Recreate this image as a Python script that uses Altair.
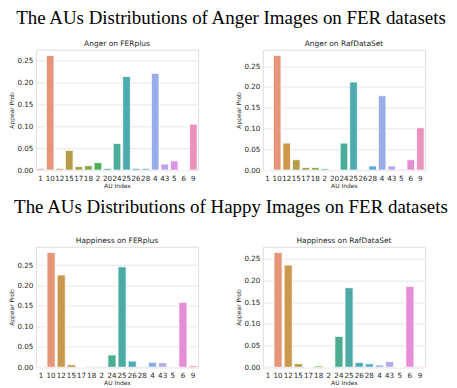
import math
import colorsys
import altair as alt
import pandas as pd

# ---------------- data ----------------
anger_aus = ["1", "10", "12", "15", "17", "18", "2", "20", "24", "25", "26", "28", "4", "43", "5", "6", "9"]
happy_aus = ["1", "10", "12", "15", "17", "18", "2", "24", "25", "26", "28", "4", "43", "5", "6", "9"]

anger_ferplus = [0.004, 0.262, 0.004, 0.045, 0.008, 0.010, 0.017, 0.004, 0.061, 0.214,
                 0.004, 0.004, 0.221, 0.014, 0.021, 0.0, 0.105]
anger_raf = [0.0, 0.276, 0.065, 0.025, 0.006, 0.006, 0.003, 0.0005, 0.065, 0.212,
             0.001, 0.010, 0.179, 0.010, 0.002, 0.025, 0.102]
happy_ferplus = [0.001, 0.281, 0.226, 0.006, 0.0, 0.001, 0.001, 0.030, 0.246, 0.015,
                 0.001, 0.012, 0.011, 0.001, 0.159, 0.004]
happy_raf = [0.001, 0.264, 0.235, 0.008, 0.0, 0.003, 0.0, 0.071, 0.183, 0.011,
             0.008, 0.005, 0.013, 0.0, 0.186, 0.002]

row_titles = ["The AUs Distributions of Anger Images on FER datasets",
              "The AUs Distributions of Happy Images on FER datasets"]
panel_titles = ["Anger on FERplus", "Anger on RafDataSet",
                "Happiness on FERplus", "Happiness on RafDataSet"]
y_ticks = [0.0, 0.05, 0.10, 0.15, 0.20, 0.25]

# ---------------- seaborn-like husl palette ----------------
M = [[3.2406, -1.5372, -0.4986], [-0.9689, 1.8758, 0.0415], [0.0557, -0.2040, 1.0570]]
REF_U, REF_V = 0.19784, 0.46834


def max_chroma(L, H):
    hrad = math.radians(H)
    sinH, cosH = math.sin(hrad), math.cos(hrad)
    sub1 = (L + 16) ** 3 / 1560896.0
    sub2 = sub1 if sub1 > 0.008856 else L / 903.3
    result = float("inf")
    for m1, m2, m3 in M:
        top = (0.99915 * m1 + 1.05122 * m2 + 1.14460 * m3) * sub2
        rbottom = 0.86330 * m3 - 0.17266 * m2
        lbottom = 0.12949 * m3 - 0.38848 * m1
        bottom = (rbottom * sinH + lbottom * cosH) * sub2
        for t in (0.0, 1.0):
            C = L * (top - 1.05122 * t) / (bottom + 0.17266 * sinH * t)
            if 0.0 < C < result:
                result = C
    return result


def husl_to_rgb(h, s, l):
    C = max_chroma(l, h) / 100.0 * s
    hr = math.radians(h)
    U, V = math.cos(hr) * C, math.sin(hr) * C
    t = (l + 16.0) / 116.0
    Y = t ** 3 if t ** 3 > 0.008856 else (116.0 * t - 16.0) / 903.3
    vu = U / (13.0 * l) + REF_U
    vv = V / (13.0 * l) + REF_V
    X = 0.0 - (9.0 * Y * vu) / ((vu - 4.0) * vv - vu * vv)
    Z = (9.0 * Y - 15.0 * vv * Y - vv * X) / (3.0 * vv)
    out = []
    for r in M:
        c = r[0] * X + r[1] * Y + r[2] * Z
        c = 12.92 * c if c <= 0.0031308 else 1.055 * c ** (1 / 2.4) - 0.055
        out.append(min(max(c, 0.0), 1.0))
    return out


def palette(n):
    cols = []
    for i in range(n):
        h = ((i / n) + 0.01) % 1 * 359
        r, g, b = husl_to_rgb(h, 0.9 * 99, 0.7 * 99)
        hh, ll, ss = colorsys.rgb_to_hls(r, g, b)
        r, g, b = colorsys.hls_to_rgb(hh, ll, ss * 0.75)
        cols.append("#%02x%02x%02x" % tuple(int(round(v * 255)) for v in (r, g, b)))
    return cols


# ---------------- panels ----------------
W, H = 163, 121


def panel(aus, vals, title):
    df = pd.DataFrame({"au": aus, "prob": vals, "color": palette(len(aus))})
    ymax = max(vals) * 1.05
    return alt.Chart(df).mark_bar(stroke="white", strokeWidth=0.8).encode(
        x=alt.X("au:N", sort=aus, title="AU Index",
                scale=alt.Scale(paddingInner=0.2, paddingOuter=0.1),
                axis=alt.Axis(labelAngle=0, ticks=False, domain=False, grid=False,
                              labelFontSize=7.2, labelPadding=4, titleFontSize=6,
                              titlePadding=1, labelColor="#262626", titleColor="#262626",
                              titleFontWeight="normal", labelFont="DejaVu Sans",
                              titleFont="DejaVu Sans")),
        y=alt.Y("prob:Q", title="Appear Prob",
                scale=alt.Scale(domain=[0, ymax], nice=False, zero=True),
                axis=alt.Axis(values=y_ticks, format=".2f", ticks=False, domain=False,
                              grid=True, gridColor="#e6e6e6", gridWidth=1,
                              labelFontSize=7.2, labelPadding=3, titleFontSize=6,
                              titlePadding=2, labelColor="#262626", titleColor="#262626",
                              titleFontWeight="normal", labelFont="DejaVu Sans",
                              titleFont="DejaVu Sans")),
        color=alt.Color("color:N", scale=None, legend=None),
    ).properties(
        width=W, height=H,
        title=alt.TitleParams(panel_titles[title], fontSize=7.5, font="DejaVu Sans",
                              fontWeight="normal", color="#262626", offset=2),
    )


p1 = panel(anger_aus, anger_ferplus, 0)
p2 = panel(anger_aus, anger_raf, 1)
p3 = panel(happy_aus, happy_ferplus, 2)
p4 = panel(happy_aus, happy_raf, 3)


def big_title(text, offset):
    return alt.TitleParams(text, font="Liberation Serif", fontSize=19, fontWeight="normal",
                           color="black", anchor="middle", offset=offset, dx=14)


row1 = alt.hconcat(p1, p2, spacing=36).properties(title=big_title(row_titles[0], 12))
row2 = alt.hconcat(p3, p4, spacing=36).properties(title=big_title(row_titles[1], 20))

chart = alt.vconcat(row1, row2, spacing=9).properties(padding=0).configure_view(
    stroke="#d6d6d6", strokeWidth=1
).configure(background="white")

chart.save("out.html", embed_options={"renderer": "svg", "actions": False})
